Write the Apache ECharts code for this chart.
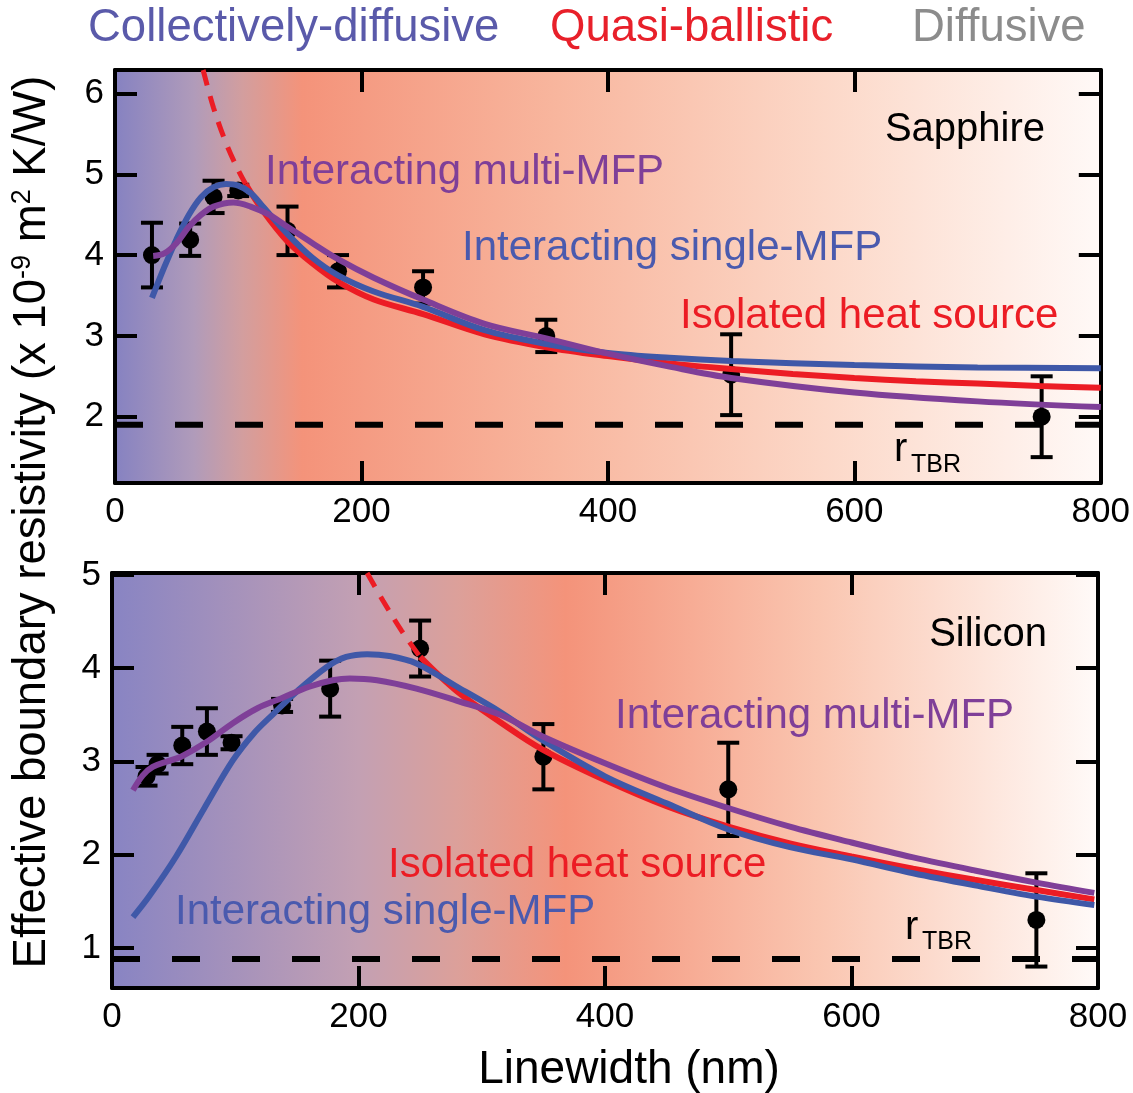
<!DOCTYPE html>
<html><head><meta charset="utf-8">
<script src="https://cdn.jsdelivr.net/npm/echarts@6/dist/echarts.min.js"></script>
<style>html,body{margin:0;padding:0;background:#fff}#c{width:1133px;height:1093px}</style>
</head><body><div id="c"></div>
<script>
// ---------- data ----------
const xTicks = [0, 200, 400, 600, 800];
const sapphireYTicks = [2, 3, 4, 5, 6];
const siliconYTicks = [1, 2, 3, 4, 5];

// Sapphire (top panel)
const sapphirePoints = [[30,4.0],[61,4.19],[80,4.72],[100,4.8],[140,4.3],[181,3.8],[250,3.6],[350,3.0],[500,2.52],[752,2.0]];
const sapphireErr = [0.4,0.2,0.2,0.07,0.3,0.2,0.2,0.2,0.5,0.5];
const sapphireTBR = 1.9;
const sapphireIsolatedDashed = [[71.5,6.29],[80,5.82],[90,5.39],[100,5.05],[106,4.88]];
const sapphireIsolated = [[106,4.88],[120,4.55],[140,4.17],[160,3.9],[181,3.67],[210,3.45],[250,3.27],[300,3.02],[350,2.86],[400,2.75],[450,2.66],[500,2.59],[550,2.53],[600,2.48],[650,2.44],[700,2.41],[750,2.38],[800,2.36]];
const sapphireSingle = [[30,3.47],[40,3.85],[50,4.2],[60,4.5],[70,4.72],[80,4.84],[90,4.88],[100,4.86],[110,4.77],[120,4.6],[140,4.26],[160,3.97],[181,3.75],[210,3.55],[250,3.36],[300,3.07],[350,2.9],[400,2.79],[450,2.73],[500,2.69],[600,2.64],[700,2.61],[800,2.6]];
const sapphireMulti = [[31,3.99],[40,4.02],[50,4.15],[60,4.35],[70,4.5],[80,4.6],[96,4.65],[110,4.6],[125,4.5],[139,4.36],[160,4.15],[181,3.95],[210,3.72],[250,3.45],[300,3.15],[350,2.97],[400,2.78],[450,2.62],[500,2.48],[600,2.3],[700,2.19],[800,2.12]];

// Silicon (bottom panel)
const siliconPoints = [[28,2.84],[37,2.97],[57,3.17],[77,3.32],[97,3.2],[138,3.6],[177,3.78],[250,4.21],[350,3.05],[500,2.7],[750,1.3]];
const siliconErr = [0.1,0.1,0.2,0.25,0.07,0.07,0.3,0.3,0.35,0.5,0.5];
const siliconTBR = 0.88;
const siliconIsolatedDashed = [[207,5.02],[220,4.72],[235,4.4],[250,4.12]];
const siliconIsolated = [[250,4.12],[280,3.75],[315,3.42],[349,3.13],[400,2.8],[450,2.52],[500,2.3],[550,2.12],[600,1.98],[650,1.85],[700,1.73],[750,1.62],[797,1.52]];
const siliconSingle = [[17,1.33],[30,1.55],[52,1.98],[75,2.5],[98,3.01],[115,3.3],[131,3.51],[150,3.75],[174,4.01],[190,4.12],[207,4.15],[225,4.13],[247,4.05],[280,3.8],[315,3.53],[349,3.23],[400,2.84],[450,2.55],[500,2.27],[550,2.08],[600,1.95],[650,1.8],[700,1.67],[750,1.55],[797,1.46]];
const siliconMulti = [[17,2.69],[25,2.85],[33,2.94],[45,3.0],[56,3.05],[77,3.21],[98,3.41],[118,3.57],[138,3.68],[160,3.8],[179,3.87],[193,3.89],[215,3.87],[247,3.78],[280,3.65],[315,3.5],[349,3.27],[400,2.98],[450,2.72],[500,2.5],[550,2.3],[600,2.13],[650,1.97],[700,1.83],[750,1.7],[797,1.59]];

// ---------- styling ----------
const FF = '"Liberation Sans", Arial, Helvetica, sans-serif';
const BLUE = '#3F58A8', RED = '#EC1C24', PURPLE = '#7F3F98';
const chart = echarts.init(document.getElementById('c'), null, {renderer: 'canvas'});

function grad(stops) {
  return new echarts.graphic.LinearGradient(0, 0, 1, 0, stops.map(s => ({offset: s[0], color: s[1]})));
}
const topBg = grad([[0,'#8682C1'],[0.08,'#B09BBA'],[0.13,'#D39E9E'],[0.19,'#F4937A'],[0.45,'#F8B69E'],[0.72,'#FCD8C8'],[1,'#FFF9F7']]);
const botBg = grad([[0,'#8884C3'],[0.25,'#C3A0B3'],[0.35,'#DCA09A'],[0.46,'#F4937A'],[0.72,'#FAC6B1'],[1,'#FFFAF8']]);

function xAx(grid, pos) {
  return {
    gridIndex: grid, type: 'value', min: 0, max: 800, position: pos,
    axisLine: {onZero: false, lineStyle: {color: '#000', width: 4}},
    axisTick: {inside: true, length: 22, customValues: xTicks, lineStyle: {color: '#000', width: 4}},
    axisLabel: {show: pos === 'bottom', customValues: xTicks, fontSize: 35, fontFamily: FF, color: '#000', margin: 12},
    splitLine: {show: false}
  };
}
function yAx(grid, pos, min, max, ticks) {
  return {
    gridIndex: grid, type: 'value', min: min, max: max, position: pos,
    axisLine: {onZero: false, lineStyle: {color: '#000', width: 4}},
    axisTick: {inside: true, length: 22, customValues: ticks, lineStyle: {color: '#000', width: 4}},
    axisLabel: {show: pos === 'left', customValues: ticks, fontSize: 35, fontFamily: FF, color: '#000', margin: 11},
    splitLine: {show: false}
  };
}

function errSeries(xi, yi, pts, errs) {
  return {
    type: 'custom', xAxisIndex: xi, yAxisIndex: yi, z: 2,
    data: pts.map((p, i) => [p[0], p[1], errs[i]]),
    renderItem: function (params, api) {
      const x = api.value(0), y = api.value(1), e = api.value(2);
      const top = api.coord([x, y + e]), bot = api.coord([x, y - e]), c = api.coord([x, y]);
      const cw = 11;
      const st = {stroke: '#000', lineWidth: 4};
      return {type: 'group', children: [
        {type: 'line', shape: {x1: top[0], y1: top[1], x2: bot[0], y2: bot[1]}, style: st},
        {type: 'line', shape: {x1: top[0]-cw, y1: top[1], x2: top[0]+cw, y2: top[1]}, style: st},
        {type: 'line', shape: {x1: bot[0]-cw, y1: bot[1], x2: bot[0]+cw, y2: bot[1]}, style: st},
        {type: 'circle', shape: {cx: c[0], cy: c[1], r: 9}, style: {fill: '#000'}}
      ]};
    }
  };
}
function lineS(xi, yi, data, color, dashed, z) {
  return {
    type: 'line', xAxisIndex: xi, yAxisIndex: yi, data: data, showSymbol: false, symbol: 'none',
    smooth: 0.35, z: z, silent: true,
    lineStyle: {color: color, width: dashed ? 5 : 6, type: dashed ? [16, 11] : 'solid', cap: 'butt'}
  };
}
function tbrS(xi, yi, v) {
  return {
    type: 'line', xAxisIndex: xi, yAxisIndex: yi, data: [[0, v], [800, v]], showSymbol: false, symbol: 'none', z: 1,
    lineStyle: {color: '#000', width: 6, type: [28, 32]}
  };
}

function txt(x, y, s, color, size, align) {
  return {type: 'text', x: x, y: y, z: 100, style: {text: s, fill: color, font: size + 'px ' + FF, textAlign: align || 'left', textVerticalAlign: 'middle'}};
}

const option = {
  backgroundColor: '#fff',
  animation: false,
  grid: [
    {left: 115, top: 70, width: 986, height: 413, show: true, borderWidth: 0, backgroundColor: topBg},
    {left: 112, top: 573, width: 986, height: 415, show: true, borderWidth: 0, backgroundColor: botBg}
  ],
  xAxis: [xAx(0, 'bottom'), xAx(0, 'top'), xAx(1, 'bottom'), xAx(1, 'top')],
  yAxis: [yAx(0, 'left', 1.18, 6.29, sapphireYTicks), yAx(0, 'right', 1.18, 6.29, sapphireYTicks),
          yAx(1, 'left', 0.57, 5.02, siliconYTicks), yAx(1, 'right', 0.57, 5.02, siliconYTicks)],
  series: [
    tbrS(0, 0, sapphireTBR),
    errSeries(0, 0, sapphirePoints, sapphireErr),
    lineS(0, 0, sapphireIsolatedDashed, RED, true, 3),
    lineS(0, 0, sapphireIsolated, RED, false, 3),
    lineS(0, 0, sapphireSingle, BLUE, false, 4),
    lineS(0, 0, sapphireMulti, PURPLE, false, 5),
    tbrS(2, 2, siliconTBR),
    errSeries(2, 2, siliconPoints, siliconErr),
    lineS(2, 2, siliconIsolatedDashed, RED, true, 3),
    lineS(2, 2, siliconIsolated, RED, false, 3),
    lineS(2, 2, siliconSingle, BLUE, false, 4),
    lineS(2, 2, siliconMulti, PURPLE, false, 5)
  ],
  graphic: [
    txt(88, 28, 'Collectively-diffusive', '#5A5AAA', 45.5),
    txt(550, 28, 'Quasi-ballistic', '#E8202A', 45.5),
    txt(912, 28, 'Diffusive', '#8C8C8C', 45.5),
    txt(1045, 130, 'Sapphire', '#000', 40, 'right'),
    txt(265, 172, 'Interacting multi-MFP', PURPLE, 42),
    txt(462, 248, 'Interacting single-MFP', '#4A5AAE', 42),
    txt(680, 316, 'Isolated heat source', RED, 42),
    txt(894, 450, 'r', '#000', 40),
    txt(911, 465, 'TBR', '#000', 25),
    txt(1047, 635, 'Silicon', '#000', 40, 'right'),
    txt(615, 716, 'Interacting multi-MFP', PURPLE, 42),
    txt(388, 865, 'Isolated heat source', RED, 42),
    txt(175, 912, 'Interacting single-MFP', '#4A5AAE', 42),
    txt(905, 928, 'r', '#000', 40),
    txt(922, 942, 'TBR', '#000', 25),
    txt(629, 1070, 'Linewidth (nm)', '#000', 46, 'center'),
    {type: 'text', x: 32, y: 522, rotation: Math.PI / 2, z: 100,
     style: {text: 'Effective boundary resistivity (x 10{sup|-9} m{sup|2} K/W)', fill: '#000', font: '45.5px ' + FF,
             textAlign: 'center', textVerticalAlign: 'middle',
             rich: {sup: {fontSize: 27, fontFamily: FF, fill: '#000', verticalAlign: 'top'}}}}
  ]
};
chart.setOption(option);
</script>
</body></html>
